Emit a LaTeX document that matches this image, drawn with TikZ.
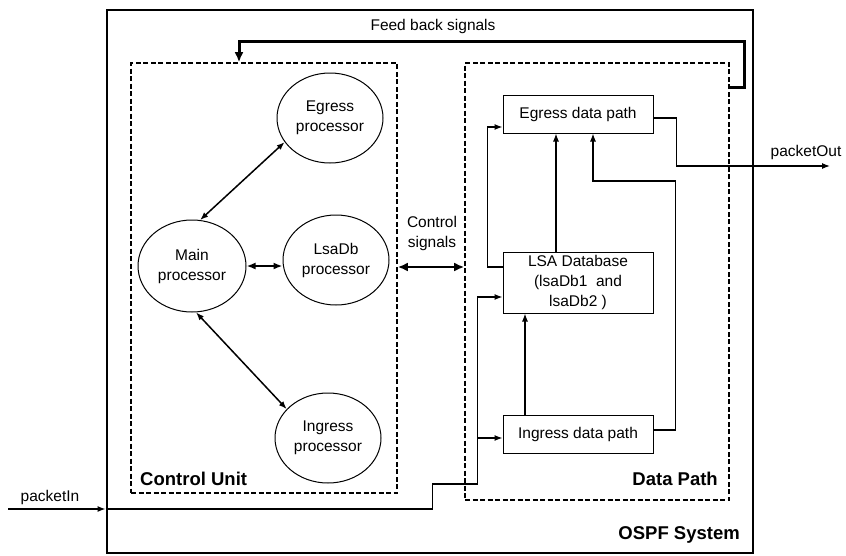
\documentclass[tikz,border=0pt]{standalone}
\usepackage{fontspec}
\setmainfont{Liberation Sans}
\usetikzlibrary{arrows.meta,shapes.geometric,calc}
\begin{document}
\begin{tikzpicture}[x=1pt,y=-1pt,
  every node/.style={font=\fontsize{15.5}{20}\selectfont},
  lbl/.style={font=\fontsize{18.5}{22}\selectfont\bfseries,inner sep=0pt},
  proc/.style={ellipse,draw,line width=1pt,minimum width=106pt,minimum height=90pt,
    align=center,inner sep=0pt},
  dpbox/.style={rectangle,draw,line width=1pt,minimum width=150pt,align=center,inner sep=0pt},
  region/.style={rectangle,draw,line width=1.6pt,dash pattern=on 5pt off 2.5pt,inner sep=0pt},
  wire/.style={line width=1.2pt},
  tip/.style={-{Latex[length=8pt,width=6pt]}},
  biarrow/.style={line width=1.5pt,{Latex[length=8pt,width=6pt]}-{Latex[length=8pt,width=6pt]}},
  busarrow/.style={line width=2.8pt,{Latex[length=10pt,width=9pt]}-{Latex[length=10pt,width=9pt]}},
  fbline/.style={line width=3pt,-{Latex[length=10pt,width=9pt]}}
]
\useasboundingbox (0,0) rectangle (846,555);

% system frame and the two sub-units
\node[draw,line width=2.8pt,minimum width=646pt,minimum height=543pt,inner sep=0pt]
  (ospf) at (430,281.5) {};
\node[region,minimum width=266pt,minimum height=430pt] (cu) at (264,278) {};
\node[region,minimum width=264pt,minimum height=437pt] (dp) at (597,281.5) {};

\node[lbl,anchor=west] at (140,479) {Control Unit};
\node[lbl,anchor=east] at (718,479) {Data Path};
\node[lbl,anchor=east] at (740,535) {OSPF System};

% processors of the control unit
\node[proc] (egress) at (330,118) {Egress\\processor};
\node[proc,minimum width=108pt,minimum height=92pt] (main) at (192,266) {Main\\processor};
\node[proc] (lsadb) at (336,260) {LsaDb\\processor};
\node[proc] (ingress) at (328,438) {Ingress\\processor};

\draw[biarrow] (main.80) -- (egress.208);
\draw[biarrow] (main.275) -- (ingress.145);
\draw[line width=2pt,{Latex[length=9pt,width=7pt]}-{Latex[length=9pt,width=7pt]}]
  (main.east) -- (main.east -| lsadb.west);

% control signals between the units
\node[align=center] at (432,233) {Control\\signals};
\draw[busarrow] ([yshift=11pt]cu.east) -- ([yshift=11pt]cu.east -| dp.west);

% blocks of the data path
\node[dpbox,minimum height=38pt] (egressdp) at (578,114) {Egress data path};
\node[dpbox,minimum height=61pt] (lsa) at (578,282.5) {LSA Database\\(lsaDb1~~and\\lsaDb2 )};
\node[dpbox,minimum height=38pt] (ingressdp) at (578,434) {Ingress data path};

\draw[wire,tip] ([xshift=-22pt]lsa.north) -- ([xshift=-22pt]egressdp.south);
\draw[wire,tip] ([yshift=15.5pt]lsa.west) -- ++(-15,0) |- ([yshift=-13pt]egressdp.west);
\draw[wire,tip] ([yshift=4pt]ingressdp.east) -- ++(22,0) -- ++(0,-249)
  -| ([xshift=15pt]egressdp.south);
\draw[wire,tip] ([xshift=-53pt]ingressdp.north) -- ([xshift=-53pt]lsa.south);

% packet output
\coordinate (pout) at (830,166);
\draw[wire,tip] ([yshift=-4pt]egressdp.east) -- ++(23,0) |- (pout);
\node at (806,152) {packetOut};

% packet input
\coordinate (pin) at (8,509);
\node at (50,497) {packetIn};
\draw[line width=1.5pt,tip] (pin) -- (pin -| ospf.west);
\path ([yshift=-14.5pt]lsa.west) coordinate (lsain);
\path ([yshift=-4pt]ingressdp.west) coordinate (ingin);
\draw[wire,tip] (pin -| ospf.west) -- ++(327,0) -- ++(0,-25) -- ++(45,0) coordinate (split)
  |- (lsain);
\draw[wire,tip] (split |- ingin) -- (ingin);

% feedback from the data path to the control unit
\node at (433,26) {Feed back signals};
\draw[fbline] ([yshift=194.5pt]dp.east) -- ++(15,0) -- ++(0,-46) -| ([xshift=-25pt]cu.north);
\end{tikzpicture}
\end{document}
